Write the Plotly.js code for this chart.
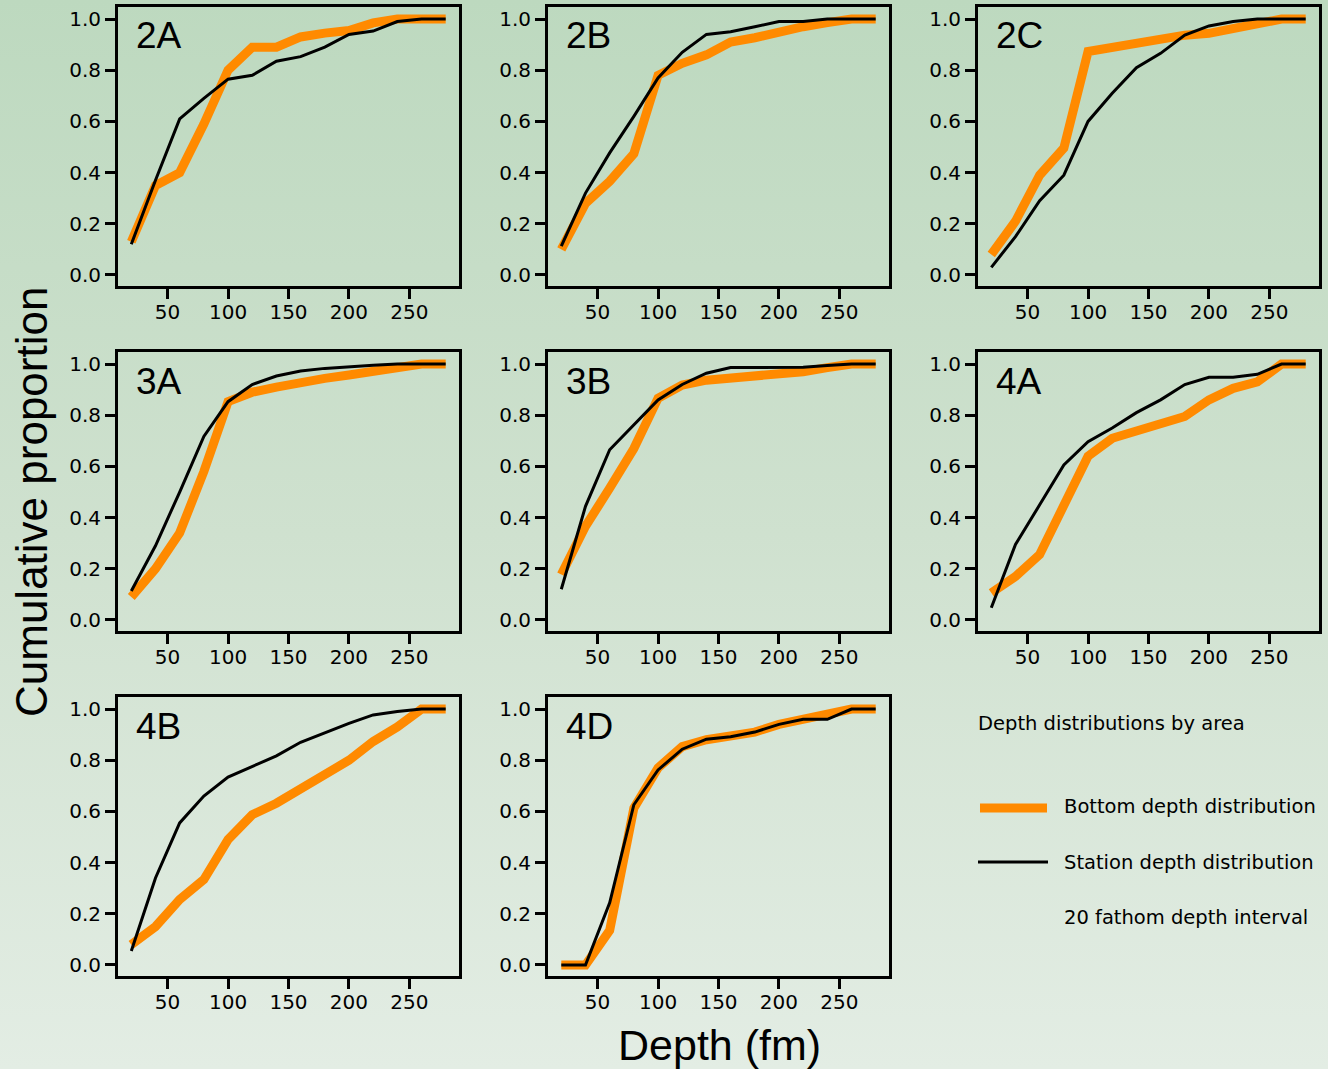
<!DOCTYPE html>
<html>
<head>
<meta charset="utf-8">
<script src="https://cdn.plot.ly/plotly-3.0.1.min.js"></script>
<style>
  html, body { margin: 0; padding: 0; }
  body { width: 1328px; height: 1069px; background: linear-gradient(to bottom, #bdd9bf 0%, #cfe1cf 50%, #e3ede4 100%); overflow: hidden; }
  #chart { width: 1328px; height: 1069px; }
</style>
</head>
<body>
<div id="chart"></div>
<script>
// ---- Data ----
const depths = [20, 40, 60, 80, 100, 120, 140, 160, 180, 200, 220, 240, 260, 280];
const areas = ['2A', '2B', '2C', '3A', '3B', '4A', '4B', '4D'];

const bottom2A  = [0.13, 0.35, 0.40, 0.59, 0.80, 0.89, 0.89, 0.93, 0.945, 0.955, 0.985, 1.0, 1.0, 1.0];
const station2A = [0.12, 0.37, 0.61, 0.69, 0.765, 0.78, 0.835, 0.853, 0.89, 0.94, 0.953, 0.99, 1.0, 1.0];

const bottom2B  = [0.10, 0.28, 0.366, 0.474, 0.78, 0.827, 0.86, 0.91, 0.927, 0.95, 0.97, 0.986, 1.0, 1.0];
const station2B = [0.113, 0.32, 0.477, 0.62, 0.77, 0.87, 0.94, 0.95, 0.97, 0.99, 0.99, 1.0, 1.0, 1.0];

const bottom2C  = [0.08, 0.21, 0.39, 0.496, 0.873, 0.89, 0.91, 0.925, 0.937, 0.944, 0.964, 0.983, 1.0, 1.0];
const station2C = [0.03, 0.15, 0.29, 0.39, 0.60, 0.71, 0.81, 0.866, 0.937, 0.973, 0.99, 1.0, 1.0, 1.0];

const bottom3A  = [0.09, 0.20, 0.34, 0.58, 0.853, 0.89, 0.91, 0.93, 0.944, 0.957, 0.97, 0.987, 1.0, 1.0];
const station3A = [0.113, 0.29, 0.50, 0.717, 0.853, 0.92, 0.953, 0.973, 0.983, 0.99, 0.995, 1.0, 1.0, 1.0];

const bottom3B  = [0.178, 0.366, 0.515, 0.67, 0.866, 0.918, 0.937, 0.944, 0.95, 0.96, 0.97, 0.986, 1.0, 1.0];
const station3B = [0.12, 0.444, 0.665, 0.762, 0.86, 0.92, 0.964, 0.986, 0.986, 0.986, 0.987, 0.994, 1.0, 1.0];

const bottom4A  = [0.106, 0.17, 0.256, 0.45, 0.64, 0.71, 0.736, 0.77, 0.795, 0.86, 0.905, 0.93, 1.0, 1.0];
const station4A = [0.048, 0.295, 0.45, 0.606, 0.697, 0.75, 0.81, 0.86, 0.92, 0.948, 0.948, 0.96, 1.0, 1.0];

const bottom4B  = [0.08, 0.15, 0.256, 0.334, 0.49, 0.587, 0.632, 0.69, 0.75, 0.80, 0.873, 0.93, 1.0, 1.0];
const station4B = [0.055, 0.34, 0.555, 0.66, 0.734, 0.775, 0.817, 0.87, 0.908, 0.944, 0.977, 0.99, 1.0, 1.0];

const bottom4D  = [0.0, 0.0, 0.135, 0.613, 0.77, 0.853, 0.88, 0.895, 0.91, 0.94, 0.96, 0.973, 1.0, 1.0];
const station4D = [0.0, 0.0, 0.243, 0.626, 0.762, 0.843, 0.882, 0.892, 0.91, 0.94, 0.96, 0.96, 1.0, 1.0];

const bottomSeries  = [bottom2A, bottom2B, bottom2C, bottom3A, bottom3B, bottom4A, bottom4B, bottom4D];
const stationSeries = [station2A, station2B, station2C, station3A, station3B, station4A, station4B, station4D];

const xTickVals = [50, 100, 150, 200, 250];
const yTickVals = [0, 0.2, 0.4, 0.6, 0.8, 1.0];

const legendTitle = 'Depth distributions by area';
const legendBottom = 'Bottom depth distribution';
const legendStation = 'Station depth distribution';
const legendNote = '20 fathom depth interval';
const xTitle = 'Depth (fm)';
const yTitle = 'Cumulative proportion';

// ---- Layout geometry (pixels) ----
const W = 1328, H = 1069;
const colPx = [[118, 459], [548, 889], [978, 1319]];
const rowPx = [[7, 286], [352, 631], [697, 976]];
const px = v => v / W;
const py = v => 1 - v / H;

const ORANGE = '#ff8a00';
const tickFont = { family: 'DejaVu Sans, Verdana, sans-serif', size: 20, color: '#000' };

const traces = [];
const layout = {
  width: W, height: H,
  margin: { l: 0, r: 0, t: 0, b: 0 },
  paper_bgcolor: 'rgba(0,0,0,0)',
  plot_bgcolor: 'rgba(0,0,0,0)',
  showlegend: false,
  annotations: [],
  shapes: []
};

areas.forEach((area, i) => {
  const r = Math.floor(i / 3), c = i % 3;
  const n = i === 0 ? '' : String(i + 1);
  const xa = 'xaxis' + n, ya = 'yaxis' + n;
  traces.push({
    x: depths, y: bottomSeries[i], type: 'scatter', mode: 'lines',
    line: { color: ORANGE, width: 9 },
    xaxis: 'x' + n, yaxis: 'y' + n, name: legendBottom, hoverinfo: 'x+y'
  });
  traces.push({
    x: depths, y: stationSeries[i], type: 'scatter', mode: 'lines',
    line: { color: '#000000', width: 3 },
    xaxis: 'x' + n, yaxis: 'y' + n, name: legendStation, hoverinfo: 'x+y'
  });
  layout[xa] = {
    domain: [px(colPx[c][0]), px(colPx[c][1])],
    anchor: 'y' + n,
    range: [9, 291],
    tickvals: xTickVals,
    ticks: 'outside', ticklen: 10, tickwidth: 3, tickcolor: '#000',
    ticklabelstandoff: -4,
    showline: true, linecolor: '#000', linewidth: 3, mirror: true,
    showgrid: false, zeroline: false,
    tickfont: tickFont
  };
  layout[ya] = {
    domain: [py(rowPx[r][1]), py(rowPx[r][0])],
    anchor: 'x' + n,
    range: [-0.043, 1.047],
    tickvals: yTickVals, tickformat: '.1f',
    ticks: 'outside', ticklen: 10, tickwidth: 3, tickcolor: '#000',
    showline: true, linecolor: '#000', linewidth: 3, mirror: true,
    showgrid: false, zeroline: false,
    tickfont: tickFont
  };
  layout.annotations.push({
    xref: 'paper', yref: 'paper',
    x: px(colPx[c][0] + 16), y: py(rowPx[r][0] + 29),
    xanchor: 'left', yanchor: 'middle', showarrow: false,
    text: area,
    font: { family: 'Liberation Sans, Arial, sans-serif', size: 37, color: '#000' }
  });
});

// Axis titles
layout.annotations.push({
  xref: 'paper', yref: 'paper', x: px(719), y: py(1045),
  xanchor: 'center', yanchor: 'middle', showarrow: false,
  text: xTitle, font: { family: 'Liberation Sans, Arial, sans-serif', size: 43, color: '#000' }
});
layout.annotations.push({
  xref: 'paper', yref: 'paper', x: px(32), y: py(502),
  xanchor: 'center', yanchor: 'middle', showarrow: false, textangle: -90,
  text: yTitle, font: { family: 'Liberation Sans, Arial, sans-serif', size: 44, color: '#000' }
});

// Legend (manual)
const legFont = { family: 'DejaVu Sans, Verdana, sans-serif', size: 19.5, color: '#000' };
layout.annotations.push({ xref: 'paper', yref: 'paper', x: px(976), y: py(723), xanchor: 'left', yanchor: 'middle', showarrow: false, text: legendTitle, font: legFont });
layout.annotations.push({ xref: 'paper', yref: 'paper', x: px(1062), y: py(806), xanchor: 'left', yanchor: 'middle', showarrow: false, text: legendBottom, font: legFont });
layout.annotations.push({ xref: 'paper', yref: 'paper', x: px(1062), y: py(862), xanchor: 'left', yanchor: 'middle', showarrow: false, text: legendStation, font: legFont });
layout.annotations.push({ xref: 'paper', yref: 'paper', x: px(1062), y: py(917), xanchor: 'left', yanchor: 'middle', showarrow: false, text: legendNote, font: legFont });
layout.shapes.push({ type: 'line', xref: 'paper', yref: 'paper', x0: px(980), x1: px(1047), y0: py(808), y1: py(808), line: { color: ORANGE, width: 9 } });
layout.shapes.push({ type: 'line', xref: 'paper', yref: 'paper', x0: px(978), x1: px(1048), y0: py(862), y1: py(862), line: { color: '#000', width: 3 } });

Plotly.newPlot('chart', traces, layout, { displayModeBar: false, staticPlot: true });
</script>
</body>
</html>
